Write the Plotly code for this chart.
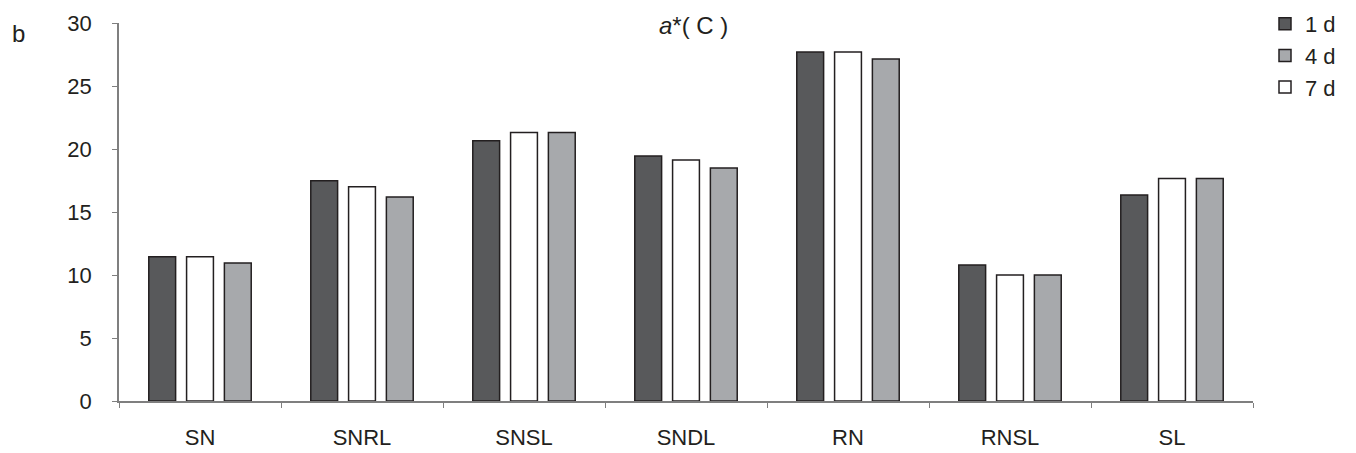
import plotly.graph_objects as go

categories = ["SN", "SNRL", "SNSL", "SNDL", "RN", "RNSL", "SL"]
day1 = [11.45, 17.48, 20.66, 19.44, 27.7, 10.8, 16.35]
day7 = [11.45, 17.0, 21.3, 19.13, 27.7, 10.0, 17.65]
day4 = [10.95, 16.2, 21.3, 18.5, 27.14, 10.0, 17.65]
y_ticks = [0, 5, 10, 15, 20, 25, 30]

FONT = "Liberation Sans, Arial, sans-serif"
TXT = "#231f20"
EDGE = "#231f20"
AX = "#7f7f7f"

fig = go.Figure()
fig.add_trace(go.Bar(name="1 d", x=categories, y=day1, legendrank=1,
                     marker=dict(color="#58595b", line=dict(color=EDGE, width=1.5))))
fig.add_trace(go.Bar(name="7 d", x=categories, y=day7, legendrank=3,
                     marker=dict(color="#ffffff", line=dict(color=EDGE, width=1.5))))
fig.add_trace(go.Bar(name="4 d", x=categories, y=day4, legendrank=2,
                     marker=dict(color="#a7a9ac", line=dict(color=EDGE, width=1.5))))

# page has an 8px body margin; work in figure coordinates
OFF = 8
W, H = 1356 - OFF, 453 - OFF
L, T = 119 - OFF, 23 - OFF
PW, PH = 1134, 378
R, B = W - L - PW, H - T - PH


def px_x(x):
    return (x - OFF - L) / PW


def px_y(y):
    return (T + PH - (y - OFF)) / PH


fig.update_layout(
    width=W, height=H,
    margin=dict(l=L, r=R, t=T, b=B, autoexpand=False),
    paper_bgcolor="white", plot_bgcolor="white",
    barmode="group", bargap=0.3, bargroupgap=0.29,
    font=dict(family=FONT, size=22, color=TXT),
    showlegend=True,
    legend=dict(x=px_x(1265), xanchor="left",
                y=px_y(3), yanchor="top",
                font=dict(size=22, color=TXT), bgcolor="rgba(0,0,0,0)",
                traceorder="normal", tracegroupgap=0),
    annotations=[
        dict(text="<i>a</i>*( C )", x=px_x(693), xref="paper", xanchor="center",
             y=px_y(25), yref="paper", yanchor="middle",
             showarrow=False, font=dict(size=24, color=TXT)),
        dict(text="b", x=px_x(18), xref="paper", xanchor="center",
             y=px_y(33), yref="paper", yanchor="middle",
             showarrow=False, font=dict(size=24, color=TXT)),
    ],
)

fig.update_xaxes(
    type="category", categoryorder="array", categoryarray=categories,
    showline=True, linecolor=AX, linewidth=1.5,
    ticks="outside", tickson="boundaries", ticklen=5, tickwidth=1.2, tickcolor=AX,
    ticklabelstandoff=16, showgrid=False, zeroline=False,
    tickfont=dict(size=22, color=TXT),
)
fig.update_yaxes(
    range=[0, 30], tickmode="array", tickvals=y_ticks,
    showline=True, linecolor=AX, linewidth=1.5,
    ticks="outside", ticklen=5, tickwidth=1.2, tickcolor=AX,
    ticklabelstandoff=16, showgrid=False, zeroline=False,
    tickfont=dict(size=22, color=TXT),
)

fig.write_html("out.html")
